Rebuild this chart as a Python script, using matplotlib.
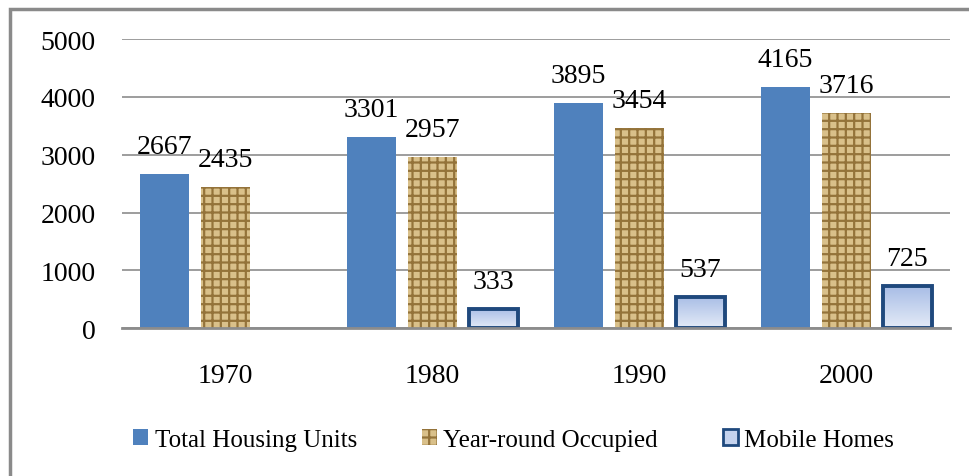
import numpy as np
import matplotlib.pyplot as plt
from matplotlib.patches import Patch, Rectangle
from matplotlib.colors import LinearSegmentedColormap

years = ['1970', '1980', '1990', '2000']
total_units = [2667, 3301, 3895, 4165]
year_round = [2435, 2957, 3454, 3716]
mobile_homes = [None, 333, 537, 725]

plt.rcParams['font.family'] = ['Liberation Serif', 'DejaVu Serif']
plt.rcParams['hatch.linewidth'] = 1.6

fig = plt.figure(figsize=(9.69, 4.77), dpi=100)
ax = fig.add_axes([0.126, 0.310, 0.854, 0.606])

# gray outer frame of the chart object (clipped right and bottom)
fig.patches.append(Rectangle((9.5 / 969, -0.1), 1.2, 1 - 9.5 / 477 + 0.1,
                             transform=fig.transFigure, fill=False,
                             edgecolor='#8a8a8a', linewidth=2.5))

x = np.arange(len(years))
w = 0.237
off = 0.295
fs = 20

b1 = ax.bar(x - off, total_units, w, color='#4f81bd', zorder=3)
b2 = ax.bar(x, year_round, w, facecolor='#d9c08a', edgecolor='#94733a',
            hatch='++', linewidth=0, zorder=3)

mx = [i + off for i, v in enumerate(mobile_homes) if v is not None]
mv = [v for v in mobile_homes if v is not None]
b3 = ax.bar(mx, mv, w, facecolor='none', edgecolor='#1f497d',
            linewidth=2.8, zorder=4)

# gradient fill inside the mobile homes bars
grad = np.linspace(0, 1, 100).reshape(-1, 1)
cmap = LinearSegmentedColormap.from_list('mh', ['#e4ebf7', '#a8bde6'])
for bar in b3:
    bx, by = bar.get_x(), bar.get_y()
    bw, bh = bar.get_width(), bar.get_height()
    im = ax.imshow(grad, cmap=cmap, aspect='auto', origin='lower',
                   extent=(bx, bx + bw, by, by + bh), zorder=3.5)
    im.set_clip_path(bar)

for bars, vals in [(b1, total_units), (b2, year_round), (b3, mv)]:
    for bar, v in zip(bars, vals):
        ax.annotate(str(v), (bar.get_x() + bar.get_width() / 2, v),
                    xytext=(0, 20), textcoords='offset points',
                    ha='center', va='center', fontsize=fs, zorder=5)

ax.set_xlim(-0.5, 3.5)
ax.set_ylim(0, 5000)
ax.set_yticks(range(0, 5001, 1000))
ax.set_xticks(x)
ax.set_xticklabels(years)
ax.tick_params(axis='both', length=0, labelsize=fs)
ax.tick_params(axis='y', pad=19)
ax.tick_params(axis='x', pad=25)
ax.grid(axis='y', color='#8c8c8c', linewidth=1.2, zorder=0)
for s in ['top', 'right', 'left']:
    ax.spines[s].set_visible(False)
ax.spines['bottom'].set_color('#8c8c8c')
ax.spines['bottom'].set_linewidth(2)
ax.spines['bottom'].set_zorder(6)

handles = [Patch(facecolor='#4f81bd'),
           Patch(facecolor='#d9c08a', edgecolor='#94733a', hatch='++', linewidth=0),
           Patch(facecolor='#c5d3ee', edgecolor='#1f497d', linewidth=2)]
labels = ['Total Housing Units', 'Year-round Occupied', 'Mobile Homes']
fig.legend(handles, labels, loc='center', bbox_to_anchor=(0.53, 0.075), ncol=3,
           frameon=False, fontsize=18, handlelength=0.6, handleheight=0.6,
           handletextpad=0.25, columnspacing=2.6)

fig.savefig('out.png', dpi=100)
